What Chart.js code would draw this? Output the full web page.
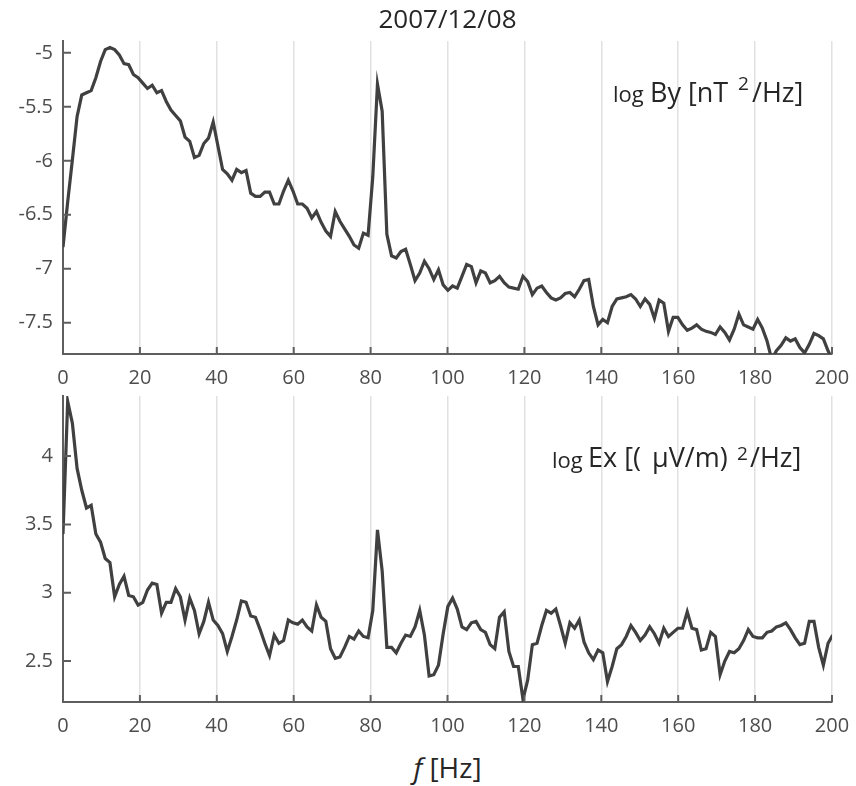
<!DOCTYPE html>
<html>
<head>
<meta charset="utf-8">
<script src="https://cdn.jsdelivr.net/npm/chart.js@4.4.1/dist/chart.umd.min.js"></script>
<style>
  body { margin: 0; background: #fff; font-family: 'Open Sans', sans-serif; color: #262626; }
  #wrap { position: relative; width: 856px; height: 786px; overflow: hidden; }
  canvas { position: absolute; left: 0; }
  .t { position: absolute; line-height: 1; white-space: pre; }
</style>
</head>
<body>
<div id="wrap">
  <canvas id="byChart" width="856" height="392" style="top:0"></canvas>
  <canvas id="exChart" width="856" height="348" style="top:392px"></canvas>

  <div class="t" style="left:63px;width:769px;top:5px;font-size:26px;text-align:center">2007/12/08</div>

  <div class="t" style="left:613px;top:82px;font-size:22px">log</div>
  <div class="t" style="left:650px;top:78px;font-size:27px">By [nT</div>
  <div class="t" style="left:738px;top:74px;font-size:19px">2</div>
  <div class="t" style="left:752px;top:78px;font-size:27px">/Hz]</div>

  <div class="t" style="left:552px;top:448px;font-size:22px">log</div>
  <div class="t" style="left:588px;top:443px;font-size:27px">Ex [(</div>
  <div class="t" style="left:652px;top:443px;font-size:27px">μV/m)</div>
  <div class="t" style="left:737px;top:444px;font-size:19px">2</div>
  <div class="t" style="left:750px;top:443px;font-size:27px">/Hz]</div>

  <div class="t" style="left:63px;width:769px;top:753px;font-size:28px;text-align:center"><i>f</i> [Hz]</div>
</div>
<script>
const freqStep = 2500 / 2048;

const byLog = [
  -6.80, -6.38, -5.99, -5.59, -5.39, -5.37, -5.35, -5.23, -5.08, -4.97,
  -4.95, -4.97, -5.02, -5.10, -5.11, -5.20, -5.23, -5.28, -5.33, -5.30,
  -5.37, -5.35, -5.45, -5.53, -5.58, -5.63, -5.78, -5.82, -5.97, -5.95,
  -5.84, -5.79, -5.64, -5.86, -6.08, -6.12, -6.18, -6.08, -6.11, -6.09,
  -6.30, -6.33, -6.33, -6.29, -6.29, -6.40, -6.40, -6.28, -6.18, -6.28,
  -6.40, -6.40, -6.44, -6.53, -6.47, -6.57, -6.65, -6.70, -6.47, -6.56,
  -6.63, -6.70, -6.78, -6.81, -6.67, -6.69, -6.15, -5.29, -5.54, -6.68,
  -6.88, -6.90, -6.84, -6.82, -6.96, -7.11, -7.04, -6.93, -7.00, -7.10,
  -7.01, -7.15, -7.20, -7.16, -7.18, -7.07, -6.96, -6.98, -7.13, -7.02,
  -7.04, -7.13, -7.11, -7.07, -7.13, -7.17, -7.18, -7.19, -7.07, -7.12,
  -7.24, -7.18, -7.16, -7.22, -7.27, -7.29, -7.27, -7.23, -7.22, -7.26,
  -7.19, -7.11, -7.10, -7.35, -7.52, -7.47, -7.50, -7.35, -7.28, -7.27,
  -7.26, -7.24, -7.28, -7.35, -7.28, -7.33, -7.46, -7.29, -7.32, -7.58,
  -7.45, -7.45, -7.52, -7.57, -7.55, -7.52, -7.56, -7.58, -7.59, -7.61,
  -7.54, -7.59, -7.66, -7.56, -7.42, -7.52, -7.54, -7.56, -7.47, -7.55,
  -7.67, -7.84, -7.76, -7.71, -7.64, -7.67, -7.65, -7.73, -7.78, -7.70,
  -7.60, -7.62, -7.65, -7.76, -7.85
];

const exLog = [
  3.43, 4.40, 4.24, 3.91, 3.75, 3.62, 3.64, 3.43, 3.37, 3.25,
  3.22, 2.97, 3.06, 3.12, 2.98, 2.97, 2.91, 2.93, 3.02, 3.07,
  3.06, 2.85, 2.93, 2.93, 3.03, 2.97, 2.80, 2.96, 2.87, 2.70,
  2.79, 2.93, 2.80, 2.76, 2.70, 2.57, 2.68, 2.80, 2.94, 2.93,
  2.83, 2.82, 2.73, 2.63, 2.54, 2.69, 2.63, 2.65, 2.80, 2.78,
  2.77, 2.80, 2.75, 2.72, 2.91, 2.82, 2.79, 2.59, 2.52, 2.53,
  2.60, 2.68, 2.66, 2.72, 2.68, 2.67, 2.87, 3.46, 3.16, 2.60,
  2.60, 2.56, 2.63, 2.69, 2.68, 2.75, 2.87, 2.69, 2.39, 2.40,
  2.47, 2.70, 2.90, 2.96, 2.88, 2.75, 2.73, 2.78, 2.79, 2.73,
  2.71, 2.62, 2.59, 2.82, 2.86, 2.57, 2.46, 2.46, 2.22, 2.36,
  2.62, 2.63, 2.76, 2.87, 2.85, 2.88, 2.76, 2.63, 2.78, 2.74,
  2.80, 2.64, 2.56, 2.51, 2.58, 2.56, 2.35, 2.46, 2.59, 2.62,
  2.68, 2.76, 2.71, 2.65, 2.69, 2.75, 2.70, 2.63, 2.74, 2.68,
  2.71, 2.74, 2.74, 2.86, 2.74, 2.73, 2.58, 2.59, 2.71, 2.68,
  2.40, 2.50, 2.57, 2.56, 2.59, 2.65, 2.73, 2.68, 2.67, 2.67,
  2.71, 2.72, 2.75, 2.76, 2.78, 2.73, 2.67, 2.62, 2.63, 2.79,
  2.79, 2.60, 2.47, 2.63, 2.69
];

const xTicks = [0, 20, 40, 60, 80, 100, 120, 140, 160, 180, 200];
const byTicks = [-7.5, -7, -6.5, -6, -5.5, -5];
const exTicks = [2.5, 3, 3.5, 4];

const axisColor = '#5e5e5e';
const tickFont = { family: 'Open Sans', size: 20 };

// MATLAB style tick marks pointing into the plot
const innerTicks = {
  id: 'innerTicks',
  afterDatasetsDraw(chart) {
    const { ctx, chartArea, scales: { x, y } } = chart;
    ctx.save();
    ctx.strokeStyle = axisColor;
    ctx.lineWidth = 2;
    ctx.beginPath();
    x.ticks.forEach(t => {
      const px = x.getPixelForValue(t.value);
      ctx.moveTo(px, chartArea.bottom);
      ctx.lineTo(px, chartArea.bottom - 7);
    });
    y.ticks.forEach(t => {
      const py = y.getPixelForValue(t.value);
      ctx.moveTo(chartArea.left, py);
      ctx.lineTo(chartArea.left + 8, py);
    });
    ctx.stroke();
    ctx.restore();
  }
};

function makeChart(id, values, yMin, yMax, yTicks, padTop, axisH) {
  return new Chart(document.getElementById(id), {
    type: 'line',
    data: {
      datasets: [{
        data: values.map((v, i) => ({ x: i * freqStep, y: v })),
        borderColor: '#404040',
        borderWidth: 3.2,
        pointRadius: 0,
        tension: 0,
        fill: false,
        clip: 0
      }]
    },
    options: {
      responsive: false,
      animation: false,
      events: [],
      layout: { padding: { top: padTop, right: 24, left: 0, bottom: 0 } },
      plugins: { legend: { display: false }, tooltip: { enabled: false } },
      scales: {
        x: {
          type: 'linear',
          min: 0,
          max: 200,
          afterBuildTicks: s => { s.ticks = xTicks.map(v => ({ value: v })); },
          afterFit: s => { s.height = axisH; s.paddingLeft = 0; s.paddingRight = 0; },
          grid: { color: '#e1e1e1', lineWidth: 1.5, drawTicks: false },
          border: { color: axisColor, width: 2 },
          ticks: { padding: 12, color: '#4d4d4d', font: tickFont, maxRotation: 0, autoSkip: false, callback: v => String(v) }
        },
        y: {
          type: 'linear',
          min: yMin,
          max: yMax,
          afterBuildTicks: s => { s.ticks = yTicks.map(v => ({ value: v })); },
          afterFit: s => { s.width = 63; s.paddingTop = 0; s.paddingBottom = 0; },
          grid: { color: 'rgba(0,0,0,0)', drawTicks: false },
          border: { color: axisColor, width: 2 },
          ticks: { padding: 10, color: '#4d4d4d', font: tickFont, callback: v => String(v) }
        }
      }
    },
    plugins: [innerTicks]
  });
}

makeChart('byChart', byLog, -7.79, -4.89, byTicks, 41, 38);
makeChart('exChart', exLog, 2.2, 4.44, exTicks, 4, 38);
</script>
</body>
</html>
